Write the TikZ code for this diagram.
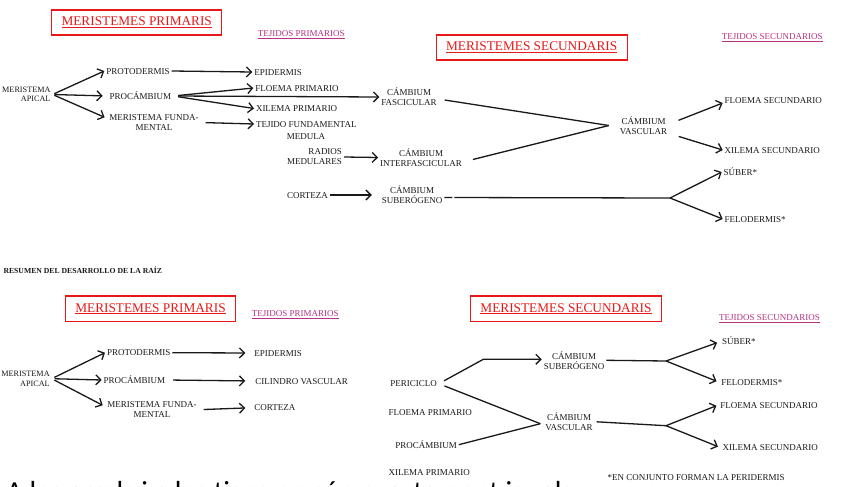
\documentclass[tikz,border=0pt]{standalone}
\usepackage{fontspec}
\setmainfont{Liberation Serif}
\newfontfamily\bigsans{Carlito}
\usetikzlibrary{arrows.meta}
\definecolor{hdrred}{RGB}{232,24,24}
\definecolor{tejpink}{RGB}{180,50,130}
\definecolor{ink}{RGB}{25,25,25}
\begin{document}
\begin{tikzpicture}[x=1pt,y=-1pt,
  every node/.style={inner sep=0pt, text=ink},
  lbl/.style={font=\fontsize{9}{10}\selectfont, text height=6.3pt, text depth=0pt, outer sep=2pt},
  lbltwo/.style={font=\fontsize{9}{10}\selectfont, align=center, outer sep=2pt},
  apical/.style={font=\fontsize{8.2}{9.6}\selectfont, align=right, anchor=east, outer sep=2pt},
  hdr/.style={draw=hdrred, line width=1.2pt, text=hdrred, font=\fontsize{13.3}{15}\selectfont},
  teji/.style={text=tejpink, font=\fontsize{9}{10}\selectfont, text height=6.3pt, text depth=0pt},
  arr/.style={draw=ink, line width=1.3pt, -{Straight Barb[length=5pt,width=10pt]}},
  ln/.style={draw=ink, line width=1.3pt},
]
\useasboundingbox (0,0) rectangle (852,487);
\fill[white] (0,0) rectangle (852,487);

% ================= TOP: TALLO =================
\node[hdr, minimum width=170pt, minimum height=25pt] (h1) at (136.7,22.5) {\underline{MERISTEMES PRIMARIS}};
\node[teji, anchor=west] (tp1) at (257.7,33.3) {\underline{TEJIDOS PRIMARIOS}};
\node[hdr, minimum width=191pt, minimum height=25pt] (h2) at (531.7,47.5) {\underline{MERISTEMES SECUNDARIS}};
\node[teji, anchor=west] (ts1) at (721.7,36.5) {\underline{TEJIDOS SECUNDARIOS}};

\node[apical] (ma1) at (52.5,94.5) {MERISTEMA\\APICAL};
\node[lbl, anchor=west] (pd1) at (104.3,71) {PROTODERMIS};
\node[lbl, anchor=west] (pc1) at (107.7,96) {PROCÁMBIUM};
\node[lbltwo] (mf1) at (154,122.5) {MERISTEMA FUNDA-\\MENTAL};
\node[lbl, anchor=west] (ep1) at (252.3,72) {EPIDERMIS};
\node[lbl, anchor=west] (fp1) at (253.3,88) {FLOEMA PRIMARIO};
\node[lbl, anchor=west] (xp1) at (254,108.5) {XILEMA PRIMARIO};
\node[lbl, anchor=west] (tf1) at (254,124) {TEJIDO FUNDAMENTAL};
\node[lbl] (md1) at (306,136.5) {MEDULA};
\node[lbltwo] (cf) at (409,97) {CÁMBIUM\\FASCICULAR};
\node[lbltwo, align=right, anchor=east] (rm) at (344,157) {RADIOS\\MEDULARES};
\node[lbltwo] (ci) at (421,157.5) {CÁMBIUM\\INTERFASCICULAR};
\node[lbl, anchor=west] (co) at (285,195) {CORTEZA};
\node[lbltwo] (cs) at (412,195) {CÁMBIUM\\SUBERÓGENO};
\node[lbltwo] (cv) at (643.5,125.5) {CÁMBIUM\\VASCULAR};
\node[lbl, anchor=west] (fs1) at (722.7,100) {FLOEMA SECUNDARIO};
\node[lbl, anchor=west] (xs1) at (722.7,150) {XILEMA SECUNDARIO};
\node[lbl, anchor=west] (sb1) at (721.7,172) {SÚBER*};
\node[lbl, anchor=west] (fd1) at (722.7,219) {FELODERMIS*};
\coordinate (j1) at (670,198);
\coordinate (cvin) at ([xshift=-9pt]cv.west);

\draw[arr, shorten <=2pt] (ma1.east) -- (pd1.west);
\draw[arr, shorten <=2pt, shorten >=5pt] (ma1.east) -- (pc1.west);
\draw[arr, shorten <=2pt, shorten >=3pt] (ma1.east) -- ([yshift=4pt]mf1.west);
\draw[arr] (pd1.east) -- (ep1.west);
\draw[arr, shorten <=5pt] (pc1.east) -- (fp1.west);
\draw[arr, shorten <=5pt] (pc1.east) -- (xp1.west);
\draw[arr, shorten <=5pt] (pc1.east) -- (cf.west);
\draw[arr, shorten <=5pt] (mf1.east) -- (tf1.west);
\draw[arr] (rm.east) -- (ci.west);
\draw[arr, shorten >=8pt] (co.east) -- (cs.west);
\draw[ln] ([xshift=6pt,yshift=-3pt]cf.east) -- (cvin);
\draw[ln] ([xshift=9pt,yshift=-2pt]ci.east) -- (cvin);
\draw[arr, shorten <=10pt] ([yshift=1.5pt]cv.east) -- ([yshift=-3pt]fs1.west);
\draw[arr, shorten <=10pt] ([yshift=-8pt]cv.east) -- (xs1.west);
\draw[ln, dash pattern=on 8pt off 2pt on 600pt] ([yshift=-2.5pt]cs.east) -- (j1);
\draw[arr] (j1) -- (sb1.west);
\draw[arr] (j1) -- (fd1.west);

\node[anchor=west, font=\bfseries\fontsize{7.7}{9}\selectfont, text height=5.5pt, text depth=0pt] (res) at (3.3,270.5) {RESUMEN DEL DESARROLLO DE LA RAÍZ};

% ================= BOTTOM: RAIZ =================
\node[hdr, minimum width=170.4pt, minimum height=25.3pt] (h3) at (150.5,308.7) {\underline{MERISTEMES PRIMARIS}};
\node[teji, anchor=west] (tp2) at (251.7,313.3) {\underline{TEJIDOS PRIMARIOS}};
\node[hdr, minimum width=191.4pt, minimum height=25.3pt] (h4) at (566,308.7) {\underline{MERISTEMES SECUNDARIS}};
\node[teji, anchor=west] (ts2) at (719,317.7) {\underline{TEJIDOS SECUNDARIOS}};

\node[apical] (ma2) at (51.7,378.7) {MERISTEMA\\APICAL};
\node[lbl, anchor=west] (pd2) at (105,352.7) {PROTODERMIS};
\node[lbl, anchor=west] (pc2) at (101.7,380) {PROCÁMBIUM};
\node[lbltwo] (mf2) at (152,409.7) {MERISTEMA FUNDA-\\MENTAL};
\node[lbl, anchor=west] (ep2) at (252.3,353) {EPIDERMIS};
\node[lbl, anchor=west] (cl) at (253.3,381) {CILINDRO VASCULAR};
\node[lbl, anchor=west] (co2) at (252.3,407.7) {CORTEZA};

\node[lbl, anchor=west] (pe) at (388.3,383.7) {PERICICLO};
\node[lbl, anchor=west] (fp2) at (386.7,412.3) {FLOEMA PRIMARIO};
\node[lbl, anchor=west] (pc3) at (393.3,445.7) {PROCÁMBIUM};
\node[lbl, anchor=west] (xp2) at (386.7,472.8) {XILEMA PRIMARIO};
\node[lbltwo] (cs2) at (574,360.3) {CÁMBIUM\\SUBERÓGENO};
\node[lbltwo] (cv2) at (569,421.7) {CÁMBIUM\\VASCULAR};
\node[lbl, anchor=west] (sb2) at (720,341.7) {SÚBER*};
\node[lbl, anchor=west] (fd2) at (719.3,382.3) {FELODERMIS*};
\node[lbl, anchor=west] (fs2) at (718.3,405) {FLOEMA SECUNDARIO};
\node[lbl, anchor=west] (xs2) at (720.7,447.7) {XILEMA SECUNDARIO};
\node[lbl, anchor=west] (note) at (605.7,477.3) {*EN CONJUNTO FORMAN LA PERIDERMIS};
\coordinate (k1) at (483.3,359.3);
\coordinate (j2) at (666,361);
\coordinate (j3) at (666,425.7);
\coordinate (cvin2) at ([xshift=-3pt,yshift=-2pt]cv2.west);

\draw[arr, shorten <=3pt] (ma2.east) -- (pd2.west);
\draw[arr, shorten <=3pt] (ma2.east) -- (pc2.west);
\draw[arr, shorten <=3pt, shorten >=3pt] (ma2.east) -- ([yshift=3pt]mf2.west);
\draw[arr, shorten >=7pt] (pd2.east) -- (ep2.west);
\draw[arr, shorten <=6pt, shorten >=8pt] (pc2.east) -- (cl.west);
\draw[arr, shorten <=5pt, shorten >=7pt] (mf2.east) -- (co2.west);
\draw[arr, shorten <=6pt] (pe.east) -- (k1) -- (cs2.west |- k1);
\draw[ln, shorten <=6pt] (pe.east) -- (cvin2);
\draw[ln] ([yshift=1pt]pc3.east) -- (cvin2);
\draw[ln] (cs2.east) -- (j2);
\draw[arr, shorten >=3pt] (j2) -- (sb2.west);
\draw[arr, shorten >=3pt] (j2) -- (fd2.west);
\draw[ln, shorten <=2pt] (cv2.east) -- (j3);
\draw[arr, shorten >=2pt] (j3) -- (fs2.west);
\draw[arr, shorten >=3pt] (j3) -- (xs2.west);

\begin{scope}
\clip (0,0) rectangle (852,487);
\node[anchor=base west, font=\bigsans\fontsize{29}{33}\selectfont, text=black] (big) at (6,501.5) {A les arrels i a les tiges no són exactament iguals};
\end{scope}
\end{tikzpicture}
\end{document}
